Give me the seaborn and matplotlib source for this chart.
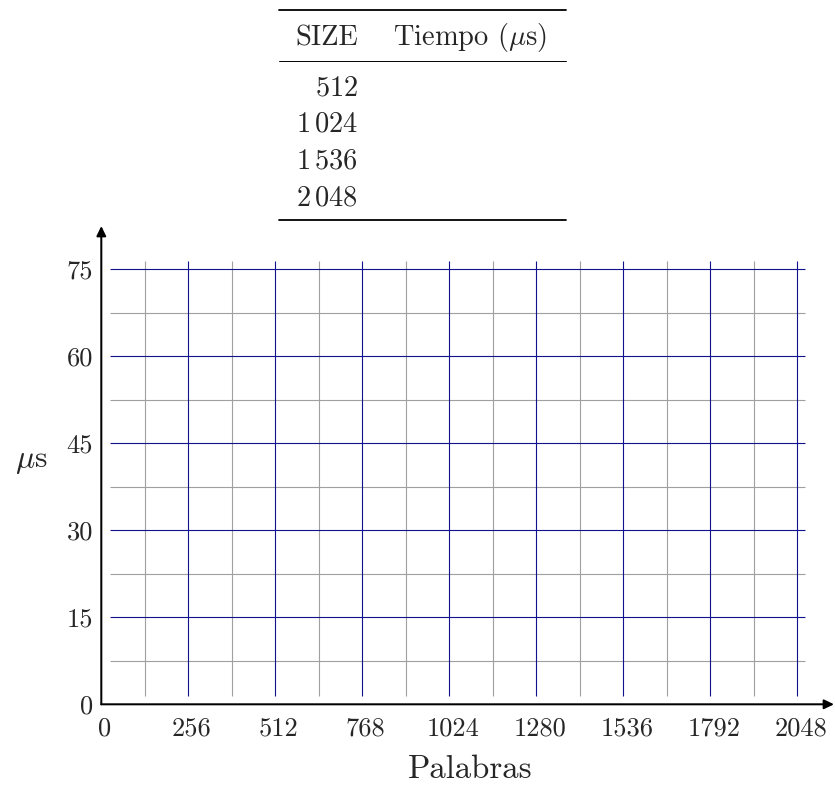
import numpy as np
import pandas as pd
import matplotlib
matplotlib.use("Agg")
import matplotlib.pyplot as plt
import matplotlib.transforms as mtransforms
from matplotlib.lines import Line2D
import seaborn as sns

# Style first, fonts after (set_style resets font.family)
sns.set_style("white")
plt.rcParams['font.family'] = ['cmr10']
plt.rcParams['mathtext.fontset'] = 'cm'
plt.rcParams['axes.formatter.use_mathtext'] = True
plt.rcParams['axes.unicode_minus'] = False

# Data: table sizes and (still empty) measured times
size_words = [512, 1024, 1536, 2048]
tiempo_us = [np.nan, np.nan, np.nan, np.nan]

# Axis ticks
x_major = [0, 256, 512, 768, 1024, 1280, 1536, 1792, 2048]
x_minor = [128, 384, 640, 896, 1152, 1408, 1664, 1920]
y_major = [0, 15, 30, 45, 60, 75]
y_minor = [7.5, 22.5, 37.5, 52.5, 67.5]
x_labels = [str(v) for v in x_major]
y_labels = [str(v) for v in y_major]

W, H = 835, 789
fig = plt.figure(figsize=(W / 100, H / 100), dpi=100)

# main axes placed in pixels (origin at 101.3, 704.3; arrow tips at 834, 226)
left, right, bottom, top = 101.3, 834, 704.3, 226
ax = fig.add_axes([left / W, (H - bottom) / H, (right - left) / W, (bottom - top) / H])
ax.set_xlim(0, (right - left) / 0.3398)
ax.set_ylim(0, (bottom - top) / 5.8)

# grid (drawn only over the grid area, like the tikz grid)
gx0, gx1 = 26, 2072
gy0, gy1 = 1.43, 76.5
grid_gray = '#a0a0a0'
grid_blue = '#12128c'
ax.vlines(x_minor, gy0, gy1, color=grid_gray, lw=0.8, zorder=1)
ax.hlines(y_minor, gx0, gx1, color=grid_gray, lw=0.8, zorder=1)
ax.hlines(y_major[1:], gx0, gx1, color=grid_blue, lw=0.8, zorder=2)
ax.vlines(x_major[1:], gy0, gy1, color=grid_blue, lw=0.8, zorder=2)

# the measurements (empty for now)
df = pd.DataFrame({'SIZE': size_words, 'Tiempo': tiempo_us})
sns.lineplot(data=df, x='SIZE', y='Tiempo', ax=ax, color='red', marker='o')

# axes with arrows
for s in ax.spines.values():
    s.set_visible(False)
arrow = dict(arrowstyle='-|>,head_length=0.58,head_width=0.28', lw=1.45,
             color='black', shrinkA=0, shrinkB=0, mutation_scale=10)
ax.annotate('', xy=(1, 0), xytext=(0, 0), xycoords='axes fraction', arrowprops=arrow,
            annotation_clip=False)
ax.annotate('', xy=(0, 1), xytext=(0, 0), xycoords='axes fraction', arrowprops=arrow,
            annotation_clip=False)

ax.set_xticks(x_major, labels=x_labels)
ax.set_yticks(y_major, labels=y_labels)
ax.tick_params(axis='x', direction='inout', length=4.3, width=0.6, pad=7, labelsize=19)
ax.tick_params(axis='y', length=0, pad=6, labelsize=19)
# x tick labels sit a few pixels right of their ticks in the reference
shift = mtransforms.ScaledTranslation(3.5 / 100, 0, fig.dpi_scale_trans)
for lab in ax.get_xticklabels():
    lab.set_transform(lab.get_transform() + shift)
ax.set_xlabel('')
ax.set_ylabel('')

# overlay in pixel coordinates: axis titles and the table
tab = fig.add_axes([0, 0, 1, 1])
tab.set_xlim(0, W)
tab.set_ylim(H, 0)
tab.axis('off')
tab.text(470, 778.3, 'Palabras', ha='center', va='baseline', fontsize=23.6)
tab.text(15, 467.3, r'$\mu$s', ha='left', va='baseline', fontsize=23)

tab.add_line(Line2D([279, 566], [10, 10], lw=1.3, color='black'))
tab.add_line(Line2D([279, 566], [61, 61], lw=0.7, color='black'))
tab.add_line(Line2D([279, 566], [220, 220], lw=1.3, color='black'))
tab.text(358.3, 45, 'SIZE', ha='right', va='baseline', fontsize=20.5)
tab.text(393, 45, r'Tiempo ($\mu$s)', ha='left', va='baseline', fontsize=20.5)


def fmt(v):
    return f'${v // 1000}\\,{v % 1000:03d}$' if v >= 1000 else f'${v}$'


baselines = [95, 131.7, 168.3, 205]
for v, t, yb in zip(size_words, tiempo_us, baselines):
    tab.text(358.3, yb, fmt(v), ha='right', va='baseline', fontsize=20.5)
    tab.text(393, yb, '' if np.isnan(t) else f'{t:g}', ha='left', va='baseline', fontsize=20.5)

fig.savefig('out.png', dpi=100)
